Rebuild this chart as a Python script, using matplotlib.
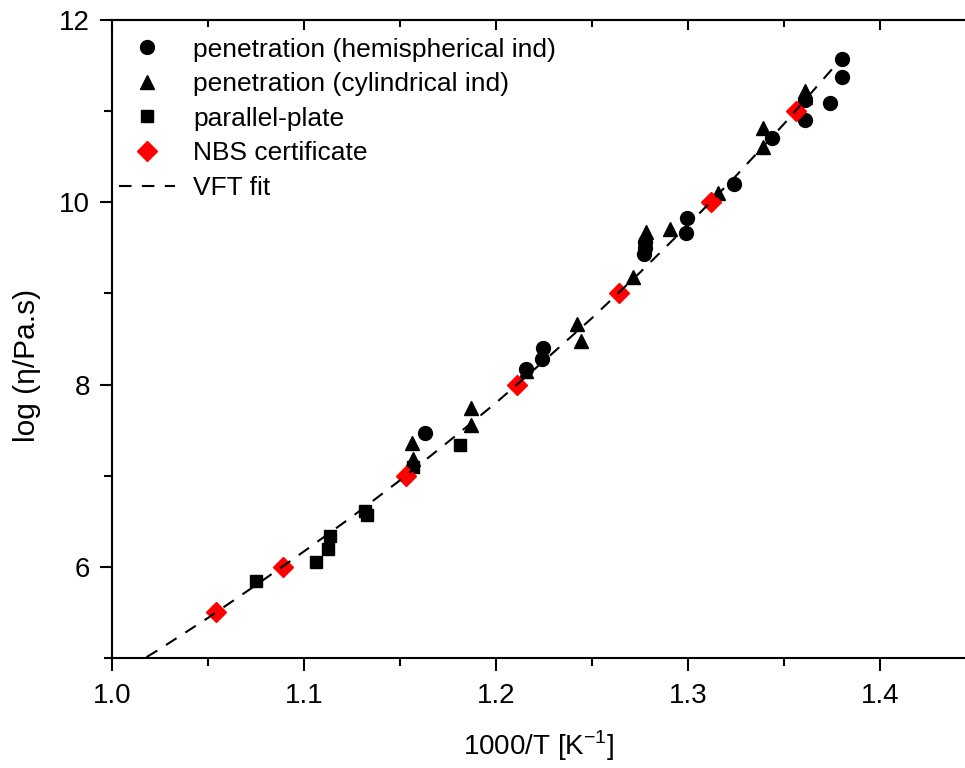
import matplotlib
matplotlib.use("Agg")
import matplotlib.pyplot as plt
from matplotlib.ticker import MultipleLocator

plt.rcParams['font.family'] = ['Liberation Sans', 'DejaVu Sans']

# penetration (hemispherical indenter) - circles
hemi_x = [1.163, 1.2155, 1.2241, 1.2247, 1.2773, 1.2776, 1.2776, 1.2988, 1.2993,
          1.324, 1.3436, 1.361, 1.361, 1.374, 1.380, 1.380]
hemi_y = [7.47, 8.17, 8.28, 8.40, 9.43, 9.50, 9.56, 9.66, 9.83,
          10.20, 10.70, 10.90, 11.12, 11.09, 11.37, 11.57]

# penetration (cylindrical indenter) - triangles
cyl_x = [1.156, 1.157, 1.187, 1.187, 1.2155, 1.242, 1.2443, 1.2715, 1.278,
         1.2906, 1.3158, 1.339, 1.339, 1.361, 1.361]
cyl_y = [7.36, 7.18, 7.74, 7.56, 8.15, 8.67, 8.48, 9.18, 9.67,
         9.71, 10.10, 10.81, 10.61, 11.22, 11.15]

# parallel-plate - squares
pp_x = [1.0749, 1.106, 1.1123, 1.1135, 1.132, 1.133, 1.157, 1.181]
pp_y = [5.84, 6.05, 6.20, 6.34, 6.61, 6.57, 7.10, 7.34]

# NBS certificate - red diamonds
nbs_x = [1.054, 1.089, 1.153, 1.211, 1.264, 1.312, 1.356]
nbs_y = [5.5, 6.0, 7.0, 8.0, 9.0, 10.0, 11.0]

# VFT fit curve
fit_x = [1.018, 1.025, 1.05, 1.075, 1.10, 1.125, 1.15, 1.175, 1.20,
         1.225, 1.25, 1.275, 1.30, 1.325, 1.35, 1.365, 1.38]
fit_y = [5.01, 5.10, 5.44, 5.80, 6.17, 6.55, 6.95, 7.37, 7.80,
         8.26, 8.73, 9.23, 9.75, 10.29, 10.86, 11.22, 11.58]

W, H = 965, 768
fig = plt.figure(figsize=(W / 100, H / 100), dpi=100)
left, right, top, bottom = 112, 965, 20, 658
ax = fig.add_axes([left / W, (H - bottom) / H, (right - left) / W, (bottom - top) / H])

ax.plot(hemi_x, hemi_y, 'o', color='black', markersize=10, linestyle='none',
        label='penetration (hemispherical ind)')
ax.plot(cyl_x, cyl_y, '^', color='black', markersize=10, linestyle='none',
        label='penetration (cylindrical ind)')
ax.plot(pp_x, pp_y, 's', color='black', markersize=8.5, linestyle='none',
        label='parallel-plate')
ax.plot(nbs_x, nbs_y, 'D', color='red', markersize=10.5, linestyle='none',
        label='NBS certificate')
ax.plot(fit_x, fit_y, color='black', linewidth=1.5, dashes=(6, 5), label='VFT fit')

ax.set_xlim(1.0, 1.0 + (right - left) / 1920)
ax.set_ylim(5, 12)

ax.xaxis.set_major_locator(MultipleLocator(0.1))
ax.xaxis.set_minor_locator(MultipleLocator(0.05))
ax.yaxis.set_major_locator(MultipleLocator(2))
ax.yaxis.set_minor_locator(MultipleLocator(1))
ax.xaxis.set_major_formatter(plt.FuncFormatter(lambda v, p: f"{v:.1f}"))
ax.yaxis.set_major_formatter(plt.FuncFormatter(lambda v, p: f"{v:.0f}"))

ax.spines['right'].set_visible(False)
for s in ['left', 'bottom', 'top']:
    ax.spines[s].set_linewidth(1.5)

ax.tick_params(axis='x', which='both', direction='out', top=False, width=1.5)
ax.tick_params(axis='x', which='major', length=9, labelsize=20, pad=9)
ax.tick_params(axis='x', which='minor', length=6)
ax.tick_params(axis='y', which='both', direction='out', width=1.5)
ax.tick_params(axis='y', which='major', length=9, labelsize=20, pad=7)
ax.tick_params(axis='y', which='minor', length=6)

secx = ax.secondary_xaxis('top')
secx.xaxis.set_major_locator(MultipleLocator(0.1))
secx.xaxis.set_minor_locator(MultipleLocator(0.05))
secx.tick_params(axis='x', which='both', direction='in', labeltop=False, width=1.5)
secx.tick_params(axis='x', which='major', length=7)
secx.tick_params(axis='x', which='minor', length=5)
secx.spines['top'].set_linewidth(1.5)

ax.set_xlabel('1000/T [K$^{\\mathregular{-1}}$]', fontsize=20, labelpad=14)
ax.set_ylabel('log (\u03b7/Pa.s)', fontsize=21.5)
ax.yaxis.set_label_coords((41 - left) / (right - left), (bottom - 365) / (bottom - top))

leg = ax.legend(loc='upper left', frameon=False, fontsize=19, handlelength=2.15,
                handletextpad=0.68, labelspacing=0.4, borderaxespad=0.0,
                borderpad=0.25, bbox_to_anchor=(0.0, 1.0 - 11 / 638))

fig.savefig('out.png', dpi=100)
